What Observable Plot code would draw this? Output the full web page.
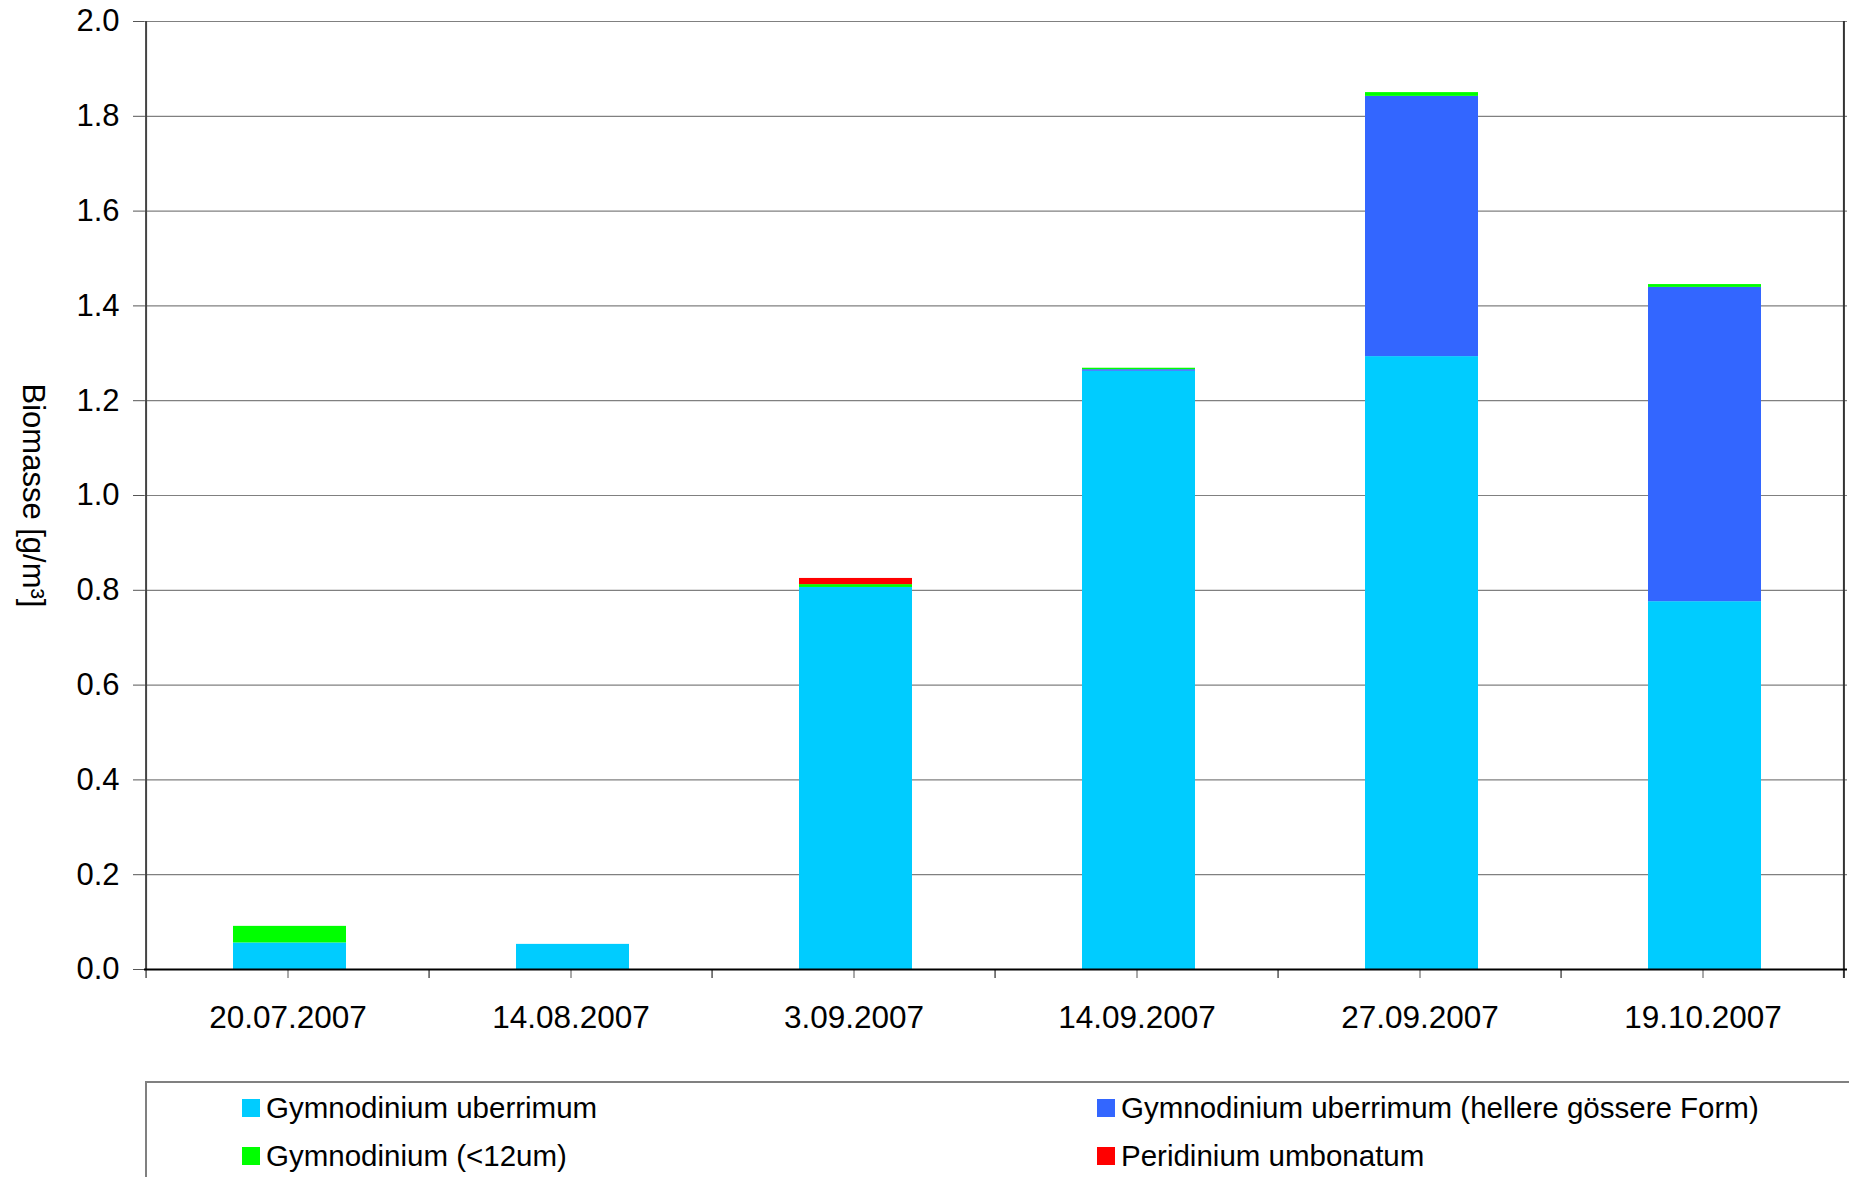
<!DOCTYPE html>
<html>
<head>
<meta charset="utf-8">
<script src="https://cdn.jsdelivr.net/npm/d3@7"></script>
<script src="https://cdn.jsdelivr.net/npm/@observablehq/plot@0.6"></script>
<style>
  html, body { margin: 0; padding: 0; background: #fff; overflow: hidden; }
  body { width: 1849px; height: 1177px; position: relative; font-family: "Liberation Sans", Arial, sans-serif; }
  #legend { position: absolute; left: 145px; top: 1081px; width: 1720px; height: 120px;
            border-top: 2px solid #808080; border-left: 2px solid #808080; box-sizing: border-box; }
  .item { position: absolute; display: flex; align-items: center; font-size: 29.5px; color: #000; white-space: nowrap; }
  .sw { width: 18px; height: 18px; margin-right: 6px; }
</style>
</head>
<body>
<div id="chart"></div>
<div id="legend"></div>
<script>
const dates = ["20.07.2007", "14.08.2007", "3.09.2007", "14.09.2007", "27.09.2007", "19.10.2007"];
const seriesNames = [
  "Gymnodinium uberrimum",
  "Gymnodinium uberrimum (hellere gössere Form)",
  "Gymnodinium (<12um)",
  "Peridinium umbonatum"
];
const seriesColors = ["#00CCFF", "#3366FF", "#00FF00", "#FF0000"];
const uberrimum     = [0.056, 0.053, 0.806, 1.262, 1.293, 0.776];
const uberrimumHell = [0,     0,     0,     0.0035, 0.549, 0.663];
const gymSmall      = [0.035, 0,     0.006, 0.003, 0.008, 0.006];
const peridinium    = [0,     0,     0.013, 0,     0,     0];
const yTicks = [0, 0.2, 0.4, 0.6, 0.8, 1.0, 1.2, 1.4, 1.6, 1.8, 2.0];
const yLabel = "Biomasse [g/m³]";

const seriesValues = [uberrimum, uberrimumHell, gymSmall, peridinium];
const data = [];
seriesNames.forEach((s, i) => {
  dates.forEach((d, j) => data.push({date: d, series: s, value: seriesValues[i][j]}));
});

const W = 1849, H = 1070, mL = 144, mR = 2, mT = 21, mB = 101;
const step = (W - mL - mR) / dates.length;

const plot = Plot.plot({
  width: W, height: H,
  marginLeft: mL, marginRight: mR, marginTop: mT, marginBottom: mB,
  style: {fontFamily: "'Liberation Sans', Arial, sans-serif", fontSize: "31px", color: "#000", background: "#fff"},
  x: {domain: dates, paddingInner: 0.6, paddingOuter: 0.3, label: null},
  y: {domain: [0, 2], label: null},
  color: {domain: seriesNames, range: seriesColors},
  marks: [
    Plot.gridY(yTicks, {stroke: "#808080", strokeOpacity: 1, strokeWidth: 1.2}),
    Plot.barY(data, {x: "date", y: "value", fill: "series", dx: 2}),
    Plot.axisY(yTicks, {tickFormat: d => d.toFixed(1), tickSize: 11, tickPadding: 14, fontSize: 31, stroke: "#555", label: null}),
    Plot.axisX(dates, {tickSize: 9, tickPadding: 27, fontSize: 31.5, stroke: "#555", label: null}),
    // category boundary ticks
    Plot.ruleX(dates, {x: d => d, dx: -step / 2, y1: 0, y2: -0.019, stroke: "#555", strokeWidth: 1.5}),
    Plot.ruleX([dates[dates.length - 1]], {x: d => d, dx: step / 2 - 1, y1: 2, y2: -0.019, stroke: "#333", strokeWidth: 2}),
    // left axis line
    Plot.ruleX([dates[0]], {x: d => d, dx: -step / 2, y1: 0, y2: 2, stroke: "#444", strokeWidth: 2}),
    Plot.ruleY([0], {stroke: "#000", strokeWidth: 2}),
    Plot.text([yLabel], {frameAnchor: "left", dx: -112, rotate: 90, textAnchor: "middle", fontSize: 31, fill: "#000"})
  ]
});
document.getElementById("chart").appendChild(plot);

const legend = document.getElementById("legend");
const pos = [[95, 26], [950, 26], [95, 74], [950, 74]];
seriesNames.forEach((s, i) => {
  const it = document.createElement("div");
  it.className = "item";
  it.style.left = pos[i][0] + "px";
  it.style.top = (pos[i][1] - 18) + "px";
  it.innerHTML = `<div class="sw" style="background:${seriesColors[i]}"></div><span></span>`;
  it.querySelector("span").textContent = s;
  legend.appendChild(it);
});
</script>
</body>
</html>
